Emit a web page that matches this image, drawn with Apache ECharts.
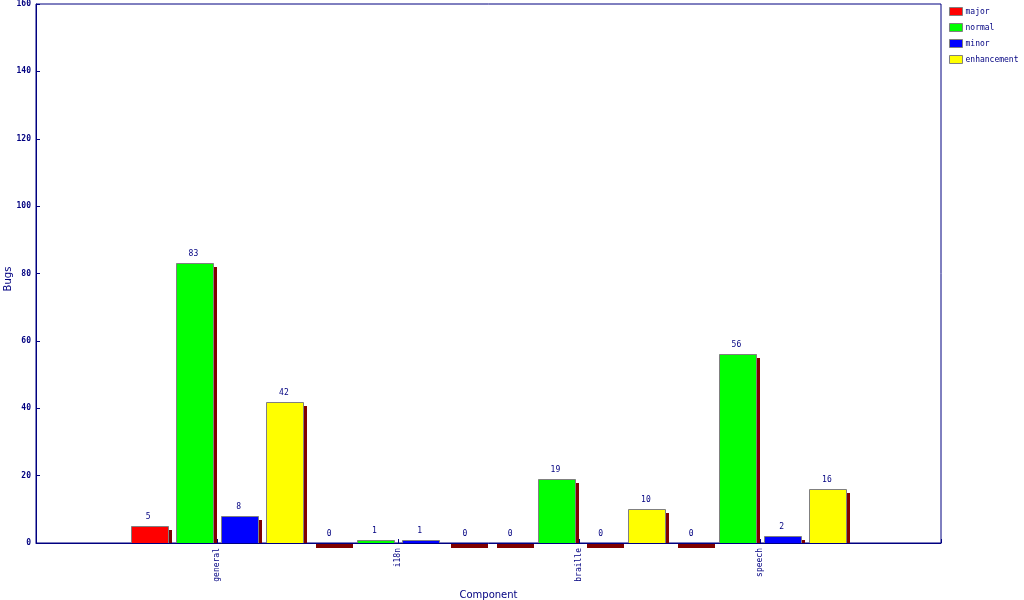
<!DOCTYPE html>
<html>
<head>
<meta charset="utf-8">
<script src="https://cdn.jsdelivr.net/npm/echarts@6/dist/echarts.min.js"></script>
<style>html,body{margin:0;padding:0;background:#fff}#c{width:1024px;height:600px}</style>
</head>
<body>
<div id="c"></div>
<script>
const categories = ['general', 'i18n', 'braille', 'speech'];
const seriesNames = ['major', 'normal', 'minor', 'enhancement'];
const major = [5, 0, 0, 0];
const normal = [83, 1, 19, 56];
const minor = [8, 1, 0, 2];
const enhancement = [42, 0, 10, 16];
const yTicks = [0, 20, 40, 60, 80, 100, 120, 140, 160];
const xTitle = 'Component';
const yTitle = 'Bugs';

const seriesValues = [major, normal, minor, enhancement];
const colors = ['#ff0000', '#00ff00', '#0000ff', '#ffff00'];
const NAVY = '#000080';
const MONO = '"DejaVu Sans Mono", monospace';

function makeRender(si) {
  return function (params, api) {
    const cat = api.value(0), val = api.value(1);
    const band = api.size([1, 0])[0];
    const slot = band / 4;
    const w = Math.round(slot * 0.82);
    const base = api.coord([cat, 0]);
    const top = api.coord([cat, val]);
    const cx = base[0] + (si - 1.5) * slot;
    const x = Math.round(cx - w / 2) + 0.5;
    const y0 = Math.round(base[1]);
    const y1 = Math.round(top[1]);
    const sy = y1 + 4;
    const sTop = Math.min(sy, y0);
    const sH = Math.max(Math.abs(y0 - sy), 1) + (val === 0 ? 1 : 0);
    return {
      type: 'group',
      children: [
        { type: 'rect', shape: { x: x + 3.5, y: sTop, width: w, height: sH }, style: { fill: '#800000' } },
        { type: 'rect', shape: { x: x, y: y1 + 0.5, width: w, height: y0 - y1 }, style: { fill: colors[si], stroke: '#808080', lineWidth: 1 } },
        { type: 'text', x: cx - 1, y: y1 - 5, style: { text: String(val), fill: NAVY, font: '8px ' + MONO, align: 'center', verticalAlign: 'bottom' } }
      ]
    };
  };
}

const series = seriesNames.map((name, si) => ({
  name: name,
  type: 'custom',
  renderItem: makeRender(si),
  encode: { x: 0, y: 1 },
  itemStyle: { color: colors[si], borderColor: '#808080', borderWidth: 1 },
  data: seriesValues[si].map((v, i) => [i + 1, v]),
  clip: false,
  z: 2
}));

const chart = echarts.init(document.getElementById('c'), null, { renderer: 'canvas' });
chart.setOption({
  animation: false,
  backgroundColor: '#ffffff',
  grid: { left: 36, right: 83, top: 4, bottom: 57, outerBoundsMode: 'none', containLabel: false, show: true, borderColor: NAVY, borderWidth: 1, backgroundColor: 'transparent' },
  graphic: [{
    type: 'text',
    x: 8,
    y: 279,
    rotation: Math.PI / 2,
    style: { text: yTitle, fill: NAVY, font: '10px "DejaVu Sans"', align: 'center', verticalAlign: 'middle' }
  }],
  legend: {
    data: seriesNames,
    orient: 'vertical',
    left: 949,
    top: 7,
    padding: 0,
    icon: 'rect',
    itemWidth: 13,
    itemHeight: 8,
    itemGap: 7,
    itemStyle: { borderColor: '#808080', borderWidth: 1 },
    textStyle: { color: NAVY, fontFamily: MONO, fontSize: 8, padding: [0, 0, 0, -2] },
    selectedMode: false
  },
  xAxis: {
    type: 'category',
    boundaryGap: false,
    data: [''].concat(categories, ['']),
    name: xTitle,
    nameLocation: 'middle',
    nameGap: 47,
    nameTextStyle: { color: NAVY, fontFamily: 'DejaVu Sans', fontSize: 10 },
    axisLine: { lineStyle: { color: NAVY, width: 1 } },
    axisTick: { inside: true, length: 4, lineStyle: { color: NAVY } },
    axisLabel: { rotate: 90, interval: 0, color: NAVY, fontFamily: MONO, fontSize: 8, margin: 5 },
    splitLine: { show: false },
    z: 10
  },
  yAxis: {
    type: 'value',
    min: yTicks[0],
    max: yTicks[yTicks.length - 1],
    interval: yTicks[1] - yTicks[0],
    axisLine: { show: true, lineStyle: { color: NAVY, width: 1 } },
    axisTick: { show: true, inside: true, length: 4, lineStyle: { color: NAVY } },
    axisLabel: { color: NAVY, fontFamily: MONO, fontSize: 8, margin: 5, fontWeight: 'bold' },
    splitLine: { show: false },
    z: 10
  },
  series: series
});
</script>
</body>
</html>
